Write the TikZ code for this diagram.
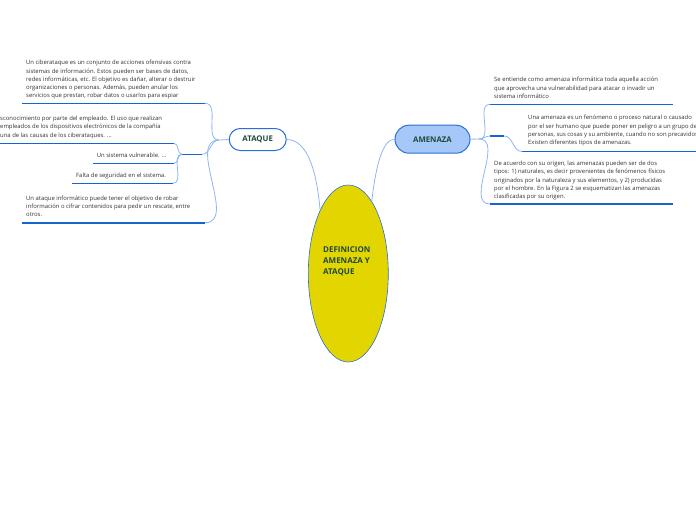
\documentclass[tikz,border=0pt]{standalone}
\usepackage{fontspec}
\setmainfont{Open Sans}
\usepackage{xcolor}
\usetikzlibrary{shapes.geometric}
\definecolor{ramaazul}{HTML}{8DB6F2}
\definecolor{subrayado}{HTML}{1565D0}
\definecolor{bordeazul}{HTML}{2A6FD6}
\definecolor{amarillo}{HTML}{E3D500}
\definecolor{celeste}{HTML}{A6C8F8}
\definecolor{verdeosc}{HTML}{1E4A38}
\definecolor{gristexto}{HTML}{333333}

\begin{document}
\begin{tikzpicture}[x=1pt,y=-1pt,
  rama/.style={draw=ramaazul,line width=0.8pt},
  subr/.style={draw=subrayado,line width=1.6pt},
  texto/.style={anchor=north west,align=left,inner sep=0pt,text=gristexto,font=\fontsize{5.9}{8.3}\selectfont},
  tema/.style={draw=bordeazul,line width=1pt,font=\fontsize{7.8}{9}\selectfont\bfseries,text=verdeosc}]
  \useasboundingbox (0,0) rectangle (696,520);
  \clip (0,0) rectangle (696,520);

  \node[ellipse,draw=bordeazul,line width=0.6pt,fill=amarillo,minimum width=80pt,minimum height=177pt,inner sep=0pt] (centro) at (348.3,273.5) {};
  \node[anchor=north west,align=left,inner sep=0pt,font=\fontsize{8}{10.8}\selectfont\bfseries,text=verdeosc] (titulo) at (323,246.5) {DEFINICION\\AMENAZA Y\\ATAQUE};

  \node[tema,fill=white,rounded corners=11pt,minimum width=57pt,minimum height=22pt] (ataque) at (257.7,139.5) {ATAQUE};
  \node[tema,fill=celeste,rounded corners=14pt,minimum width=75pt,minimum height=28pt] (amenaza) at (432.5,139.2) {AMENAZA};

  \draw[rama] (ataque.east) .. controls +(22,0) and +(-3,-35) .. (centro.114);
  \draw[rama] (centro.72) .. controls +(4,-35) and +(-12,0) .. (amenaza.west);

  % rama ataque
  \coordinate (nudoA) at (219,140);
  \draw[rama] (ataque.west) -- (nudoA);

  \node[texto] (ciber) at (26,60) {Un ciberataque es un conjunto de acciones ofensivas contra\\sistemas de información. Estos pueden ser bases de datos,\\redes informáticas, etc. El objetivo es dañar, alterar o destruir\\organizaciones o personas. Además, pueden anular los\\servicios que prestan, robar datos o usarlos para espiar};
  \coordinate (ciber-i) at (22,103.3);
  \coordinate (ciber-d) at (205,103.3);
  \draw[subr] (ciber-i) -- (ciber-d);
  \draw[rama] (nudoA) to[out=180,in=0] (ciber-d);

  \coordinate (subA-i) at (182,154.3);
  \coordinate (subA-d) at (202,154.3);
  \draw[subr] (subA-i) -- (subA-d);
  \draw[rama] (nudoA) to[out=180,in=0] (subA-d);

  \node[texto] (desc) at (0,116) {sconocimiento por parte del empleado. El uso que realizan\\empleados de los dispositivos electrónicos de la compañía\\una de las causas de los ciberataques. ...};
  \coordinate (desc-i) at (-2,143.3);
  \coordinate (desc-d) at (174,143.3);
  \draw[subr] (desc-i) -- (desc-d);
  \draw[rama] (subA-i) to[out=180,in=0] (desc-d);

  \node[texto] (vuln) at (96.7,152.7) {Un sistema vulnerable. ...};
  \coordinate (vuln-i) at (93,163.3);
  \coordinate (vuln-d) at (174,163.3);
  \draw[subr] (vuln-i) -- (vuln-d);
  \draw[rama] (subA-i) to[out=180,in=0] (vuln-d);

  \node[texto] (falta) at (76,173) {Falta de seguridad en el sistema.};
  \coordinate (falta-i) at (71.7,183.3);
  \coordinate (falta-d) at (173,183.3);
  \draw[subr] (falta-i) -- (falta-d);
  \draw[rama] (subA-i) to[out=180,in=0] (falta-d);

  \node[texto] (robo) at (26,195.3) {Un ataque informático puede tener el objetivo de robar\\información o cifrar contenidos para pedir un rescate, entre\\otros.};
  \coordinate (robo-i) at (21.7,222.7);
  \coordinate (robo-d) at (205,222.7);
  \draw[subr] (robo-i) -- (robo-d);
  \draw[rama] (nudoA) to[out=180,in=0] (robo-d);

  % rama amenaza
  \coordinate (nudoB) at (479,139);
  \draw[rama] (amenaza.east) -- (nudoB);

  \node[texto] (entiende) at (494,77) {Se entiende como amenaza informática toda aquella acción\\que aprovecha una vulnerabilidad para atacar o invadir un\\sistema informático};
  \coordinate (entiende-i) at (490,104.3);
  \coordinate (entiende-d) at (673,104.3);
  \draw[subr] (entiende-i) -- (entiende-d);
  \draw[rama] (nudoB) to[out=0,in=180] (entiende-i);

  \coordinate (subB-i) at (490,136);
  \coordinate (subB-d) at (504,136);
  \draw[subr] (subB-i) -- (subB-d);
  \draw[rama] (nudoB) to[out=0,in=180] (subB-i);

  \node[texto] (fenomeno) at (528,115) {Una amenaza es un fenómeno o proceso natural o causado\\por el ser humano que puede poner en peligro a un grupo de\\personas, sus cosas y su ambiente, cuando no son precavidos.\\Existen diferentes tipos de amenazas.};
  \coordinate (fenomeno-i) at (522,151.5);
  \coordinate (fenomeno-d) at (700,151.5);
  \draw[subr] (fenomeno-i) -- (fenomeno-d);
  \draw[rama] (subB-d) to[out=0,in=180] (fenomeno-i);

  \node[texto] (origen) at (494,161) {De acuerdo con su origen, las amenazas pueden ser de dos\\tipos: 1) naturales, es decir provenientes de fenómenos físicos\\originados por la naturaleza y sus elementos, y 2) producidas\\por el hombre. En la Figura 2 se esquematizan las amenazas\\clasificadas por su origen.};
  \coordinate (origen-i) at (490,204);
  \coordinate (origen-d) at (673,204);
  \draw[subr] (origen-i) -- (origen-d);
  \draw[rama] (nudoB) to[out=0,in=180] (origen-i);
\end{tikzpicture}
\end{document}
